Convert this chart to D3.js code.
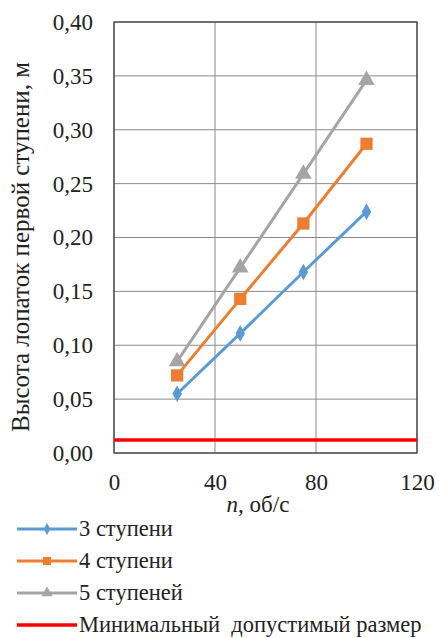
<!DOCTYPE html>
<html>
<head>
<meta charset="utf-8">
<script src="https://cdn.jsdelivr.net/npm/d3@7"></script>
</head>
<body style="margin:0;background:#fff">
<svg id="chart" width="439" height="638" font-family="Liberation Serif"></svg>
<script>
// data
const speeds = [25, 50, 75, 100];
const stages3 = [0.055, 0.111, 0.168, 0.224];
const stages4 = [0.072, 0.143, 0.213, 0.287];
const stages5 = [0.085, 0.172, 0.259, 0.346];
const minSize = 0.012;
const xTicks = [0, 40, 80, 120];
const yTicks = [0, 0.05, 0.1, 0.15, 0.2, 0.25, 0.3, 0.35, 0.4];
const seriesNames = ["3 ступени", "4 ступени", "5 ступеней", "Минимальный  допустимый размер"];

const FONT = "Liberation Serif";
const W = 439, H = 638;
const margin = { top: 22, right: 22, bottom: 185, left: 114 };
const width = W - margin.left - margin.right;
const height = H - margin.top - margin.bottom;

const series = [
  { name: seriesNames[0], values: stages3, color: "#5b9bd5", symbol: d3.symbolDiamond, size: 80, legendSize: 40 },
  { name: seriesNames[1], values: stages4, color: "#ed7d31", symbol: d3.symbolSquare, size: 150, legendSize: 64 },
  { name: seriesNames[2], values: stages5, color: "#a5a5a5", symbol: d3.symbolTriangle, size: 120, legendSize: 55 }
];

const svg = d3.select("#chart");

const g = svg.append("g")
  .attr("transform", `translate(${margin.left},${margin.top})`);

const x = d3.scaleLinear().domain([0, 120]).range([0, width]);
const y = d3.scaleLinear().domain([0, 0.4]).range([height, 0]);

// grid
g.selectAll(".hgrid")
  .data(yTicks)
  .enter().append("line")
  .attr("x1", 0).attr("x2", width)
  .attr("y1", d => y(d)).attr("y2", d => y(d))
  .attr("stroke", "#8a8a8a").attr("stroke-width", 1);

g.selectAll(".vgrid")
  .data(xTicks)
  .enter().append("line")
  .attr("y1", 0).attr("y2", height)
  .attr("x1", d => x(d)).attr("x2", d => x(d))
  .attr("stroke", "#8a8a8a").attr("stroke-width", 1);

// border
g.append("rect")
  .attr("width", width).attr("height", height)
  .attr("fill", "none").attr("stroke", "#444").attr("stroke-width", 1.3);

// axes labels
const yAxis = d3.axisLeft(y).tickValues(yTicks)
  .tickFormat(d => d3.format(".2f")(d).replace(".", ","))
  .tickSize(0).tickPadding(21);
g.append("g").call(yAxis)
  .attr("font-family", FONT).attr("font-size", 23)
  .call(s => s.select(".domain").remove())
  .selectAll("text").attr("fill", "#222");

const xAxis = d3.axisBottom(x).tickValues(xTicks).tickSize(0).tickPadding(21);
g.append("g").attr("transform", `translate(0,${height})`).call(xAxis)
  .attr("font-family", FONT).attr("font-size", 23)
  .call(s => s.select(".domain").remove())
  .selectAll("text").attr("fill", "#222");

// min size line
g.append("line")
  .attr("x1", 0).attr("x2", width)
  .attr("y1", y(minSize)).attr("y2", y(minSize))
  .attr("stroke", "#ff0000").attr("stroke-width", 3.5);

// series
const line = d3.line()
  .x((d, i) => x(speeds[i]))
  .y(d => y(d));

series.forEach(s => {
  g.append("path")
    .datum(s.values)
    .attr("fill", "none")
    .attr("stroke", s.color)
    .attr("stroke-width", 3)
    .attr("d", line);
  g.selectAll(null)
    .data(s.values)
    .enter().append("path")
    .attr("d", d3.symbol().type(s.symbol).size(s.size))
    .attr("transform", (d, i) => `translate(${x(speeds[i])},${y(d)})`)
    .attr("fill", s.color);
});

// axis titles
svg.append("text")
  .attr("transform", "translate(29,247) rotate(-90)")
  .attr("text-anchor", "middle")
  .attr("fill", "#222")
  .attr("font-family", FONT)
  .attr("font-size", 25)
  .text("Высота лопаток первой ступени, м");

const xt = svg.append("text")
  .attr("x", 258)
  .attr("y", 512)
  .attr("text-anchor", "middle")
  .attr("fill", "#222")
  .attr("font-family", FONT)
  .attr("font-size", 23);
xt.append("tspan").attr("font-style", "italic").text("n");
xt.append("tspan").text(", об/с");

// legend
const legendItems = series.concat([{ name: seriesNames[3], color: "#ff0000", symbol: null }]);
const legend = svg.append("g").attr("transform", "translate(17,529)");
legendItems.forEach((s, i) => {
  const row = legend.append("g").attr("transform", `translate(0,${i * 32})`);
  row.append("line")
    .attr("x1", 0).attr("x2", 60)
    .attr("stroke", s.color).attr("stroke-width", s.symbol ? 3 : 3.5);
  if (s.symbol) {
    row.append("path")
      .attr("d", d3.symbol().type(s.symbol).size(s.legendSize))
      .attr("transform", "translate(30,0)")
      .attr("fill", s.color);
  }
  row.append("text")
    .attr("x", 62).attr("y", 7)
    .attr("fill", "#222")
    .attr("font-family", FONT)
    .attr("font-size", 22.5)
    .attr("xml:space", "preserve")
    .text(s.name);
});
</script>
</body>
</html>
